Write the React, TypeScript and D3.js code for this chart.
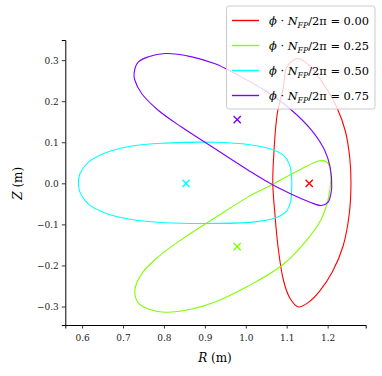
import React, { useEffect, useRef } from "react";
import * as d3 from "d3";

// cross-section outlines, [R, Z] in metres
const phiLabels = ["0.00", "0.25", "0.50", "0.75"];
const colors = ["#ff0000", "#80ff00", "#00ffff", "#7f00ff"];

const red: [number, number][] = [
  [1.127, 0.304], [1.157, 0.285], [1.189, 0.243], [1.222, 0.186], [1.243, 0.128],
  [1.254, 0.063], [1.257, 0.0], [1.253, -0.073], [1.238, -0.152], [1.212, -0.215],
  [1.181, -0.262], [1.153, -0.29], [1.128, -0.301], [1.108, -0.28], [1.092, -0.236],
  [1.079, -0.156], [1.071, -0.073], [1.066, 0.0], [1.069, 0.08], [1.077, 0.17],
  [1.092, 0.234], [1.1, 0.283],
];

const green: [number, number][] = [
  [0.925, -0.084], [1.006, -0.033], [1.063, -0.004], [1.132, 0.033], [1.181, 0.055],
  [1.198, 0.052], [1.206, 0.036], [1.208, 0.012], [1.201, -0.04], [1.185, -0.086],
  [1.145, -0.143], [1.088, -0.2], [1.006, -0.25], [0.925, -0.289], [0.868, -0.306],
  [0.803, -0.314], [0.762, -0.306], [0.737, -0.291], [0.729, -0.261], [0.746, -0.22],
  [0.786, -0.179], [0.843, -0.137],
];

const cyan: [number, number][] = [
  [0.591, 0.0], [0.595, 0.024], [0.615, 0.051], [0.656, 0.074], [0.721, 0.091],
  [0.803, 0.098], [0.925, 0.1], [1.01, 0.094], [1.059, 0.084], [1.092, 0.068],
  [1.106, 0.048], [1.112, 0.015], [1.112, -0.017], [1.11, -0.043], [1.1, -0.067],
  [1.075, -0.083], [1.035, -0.092], [1.01, -0.095], [0.9, -0.098], [0.803, -0.096],
  [0.721, -0.088], [0.656, -0.072], [0.615, -0.05], [0.595, -0.022],
];

const purple: [number, number][] = [
  [0.727, 0.267], [0.737, 0.295], [0.762, 0.308], [0.803, 0.316], [0.868, 0.308],
  [0.925, 0.291], [0.974, 0.267], [1.047, 0.226], [1.112, 0.178], [1.161, 0.129],
  [1.193, 0.08], [1.206, 0.04], [1.21, -0.009], [1.208, -0.025], [1.201, -0.046],
  [1.185, -0.054], [1.157, -0.046], [1.108, -0.025], [1.047, 0.007], [1.006, 0.032],
  [0.925, 0.084], [0.843, 0.137], [0.786, 0.178], [0.746, 0.218], [0.729, 0.251],
];

const outlines = [red, green, cyan, purple];

// magnetic axis positions
const axisR = [1.155, 0.979, 0.854, 0.979];
const axisZ = [0.0, -0.154, 0.0, 0.155];

const xTicks = [0.6, 0.7, 0.8, 0.9, 1.0, 1.1, 1.2];
const yTicks = [-0.3, -0.2, -0.1, 0.0, 0.1, 0.2, 0.3];

const FONT = "'DejaVu Serif', serif";

const App = () => {
  const svgRef = useRef<SVGSVGElement>(null);

  useEffect(() => {
    const width = 382;
    const height = 376;
    const svg = d3.select(svgRef.current);
    svg.selectAll("*").remove();
    svg.attr("width", width).attr("height", height).style("font-family", FONT);

    const x = d3.scaleLinear().domain([0.559, 1.293]).range([65.3, 365.7]);
    const y = d3.scaleLinear().domain([-0.345, 0.349]).range([325, 40]);
    const fmt = d3.format(".1f");

    const line = d3
      .line<[number, number]>()
      .x((d) => x(d[0]))
      .y((d) => y(d[1]))
      .curve(d3.curveCatmullRomClosed.alpha(0.5));

    svg
      .selectAll(".outline")
      .data(outlines)
      .enter()
      .append("path")
      .attr("d", (d) => line(d))
      .attr("fill", "none")
      .attr("stroke", (_, i) => colors[i])
      .attr("stroke-width", 1.1);

    // x markers
    const s = 3.6;
    axisR.forEach((r, i) => {
      const cx = x(r);
      const cy = y(axisZ[i]);
      svg
        .append("path")
        .attr("d", `M${cx - s},${cy - s}L${cx + s},${cy + s}M${cx - s},${cy + s}L${cx + s},${cy - s}`)
        .attr("stroke", colors[i])
        .attr("stroke-width", 1.4)
        .attr("fill", "none");
    });

    // axes
    const xAxis = svg
      .append("g")
      .attr("transform", `translate(0,${y.range()[0]})`)
      .call(d3.axisBottom(x).tickValues(xTicks).tickFormat((d) => fmt(+d)).tickSizeOuter(0).tickSize(3.5));
    const yAxis = svg
      .append("g")
      .attr("transform", `translate(${x.range()[0]},0)`)
      .call(
        d3
          .axisLeft(y)
          .tickValues(yTicks)
          .tickFormat((d) => fmt(+d).replace("-", "\u2212"))
          .tickSizeOuter(0)
          .tickSize(3.5)
      );
    [xAxis, yAxis].forEach((g) => {
      g.attr("font-family", null).attr("font-size", null);
      g.selectAll("text").style("font-family", FONT).style("font-size", "9px").attr("fill", "#222");
      g.select(".domain").attr("stroke", "#000").attr("stroke-width", 1);
      g.selectAll(".tick line").attr("stroke", "#000").attr("stroke-width", 0.8);
    });
    xAxis.selectAll("text").attr("dy", "1.1em");

    // axis labels
    const xl = svg
      .append("text")
      .attr("x", 215)
      .attr("y", 362)
      .attr("text-anchor", "middle")
      .style("font-size", "12px");
    xl.append("tspan").attr("font-style", "italic").text("R");
    xl.append("tspan").text(" (m)");

    const yl = svg
      .append("text")
      .attr("transform", `translate(22,${y(0)}) rotate(-90)`)
      .attr("text-anchor", "middle")
      .style("font-size", "12px");
    yl.append("tspan").attr("font-style", "italic").text("Z");
    yl.append("tspan").text(" (m)");

    // legend
    const lg = svg.append("g");
    lg.append("rect")
      .attr("x", 226.5)
      .attr("y", 6)
      .attr("width", 148.5)
      .attr("height", 103)
      .attr("rx", 2.5)
      .attr("fill", "#fff")
      .attr("fill-opacity", 0.8)
      .attr("stroke", "#ccc")
      .attr("stroke-width", 1);

    phiLabels.forEach((lab, i) => {
      const cy = 20.5 + i * 25;
      lg.append("line")
        .attr("x1", 232)
        .attr("x2", 259)
        .attr("y1", cy)
        .attr("y2", cy)
        .attr("stroke", colors[i])
        .attr("stroke-width", 1.4);
      const t = lg
        .append("text")
        .attr("x", 269)
        .attr("y", cy + 4.3)
        .style("font-size", "11.4px");
      t.append("tspan").attr("font-style", "italic").text("\u03d5");
      t.append("tspan").text(" \u00b7 ");
      t.append("tspan").attr("font-style", "italic").text("N");
      t.append("tspan").attr("font-style", "italic").style("font-size", "7.8px").attr("dy", 3).text("FP");
      t.append("tspan").attr("dy", -3).text(`/2\u03c0 = ${lab}`);
    });
  }, []);

  return <svg ref={svgRef} style={{ position: "absolute", left: 0, top: 0 }}></svg>;
};

export default App;
